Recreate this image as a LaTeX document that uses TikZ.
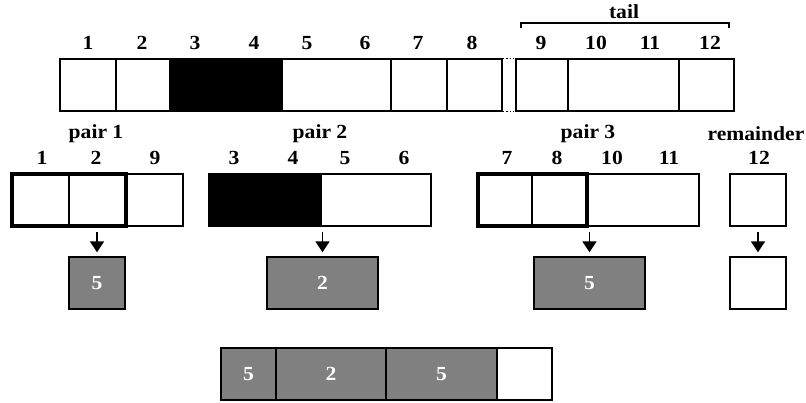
\documentclass[tikz,border=0pt]{standalone}
\usepackage{fontspec}
\setmainfont{Liberation Serif}[FakeStretch=1.08]
\usetikzlibrary{fit,arrows.meta}
\definecolor{gfill}{RGB}{128,128,128}
\newcommand\lbl{\bfseries\fontsize{20}{22}\selectfont}
\begin{document}
\begin{tikzpicture}[x=1pt,y=-1pt,
  box/.style={draw=black, line width=1.4pt, inner sep=0pt, fill=white},
  blk/.style={box, fill=black},
  gbox/.style={box, fill=gfill, text=white, font=\lbl},
  frame/.style={draw=black, line width=3.2pt, inner sep=0pt},
  lab/.style={font=\lbl, inner sep=0pt},
  arr/.style={line width=1.7pt, -{Triangle[width=14pt,length=11pt]}, shorten >=4pt}]
\useasboundingbox (0,0) rectangle (806,402);
% ---------- top row ----------
\node[box, fit={(60,59)(116,111)}] (t1) {};
\node[box, fit={(116,59)(170,111)}] (t2) {};
\node[blk, fit={(170,59)(282,111)}] (t34) {};
\node[box, fit={(282,59)(391,111)}] (t56) {};
\node[box, fit={(391,59)(447,111)}] (t7) {};
\node[box, fit={(447,59)(502,111)}] (t8) {};
\node[box, fit={(516,59)(568,111)}] (t9) {};
\node[box, fit={(568,59)(679,111)}] (t1011) {};
\node[box, fit={(679,59)(734,111)}] (t12) {};
\draw[dotted, line width=1.4pt] (t8.north east) -- (t9.north west);
\draw[dotted, line width=1.4pt] (t8.south east) -- (t9.south west);
\node[lab] (l1) at (88,43) {1};
\node[lab] (l2) at (142,43) {2};
\node[lab] (l3) at (195,43) {3};
\node[lab] (l4) at (254,43) {4};
\node[lab] (l5) at (307,43) {5};
\node[lab] (l6) at (365,43) {6};
\node[lab] (l7) at (418,43) {7};
\node[lab] (l8) at (472,43) {8};
\node[lab] (l9) at (541,43) {9};
\node[lab] (l10) at (596,43) {10};
\node[lab] (l11) at (650,43) {11};
\node[lab] (l12) at (710,43) {12};
\draw[line width=1.4pt] (521,28) -- (521,23) -- (729,23) -- (729,28);
\node[lab] (tail) at (624,12) {tail};
% ---------- second row ----------
\node[box, fit={(12,174)(69,226)}] (a1) {};
\node[box, fit={(69,174)(126,226)}] (a2) {};
\node[box, fit={(126,174)(183,226)}] (a9) {};
\node[frame, fit={(12,174)(126,226)}] (f1) {};
\node[blk, fit={(209,174)(321,226)}] (b34) {};
\node[box, fit={(321,174)(431,226)}] (b56) {};
\node[box, fit={(478,174)(532,226)}] (c7) {};
\node[box, fit={(532,174)(587,226)}] (c8) {};
\node[box, fit={(587,174)(699,226)}] (c1011) {};
\node[frame, fit={(478,174)(587,226)}] (f3) {};
\node[box, fit={(730,174)(786,226)}] (r12) {};
\node[lab] (p1) at (96,134) {pair 1};
\node[lab] (p2) at (320,134) {pair 2};
\node[lab] (p3) at (588,134) {pair 3};
\node[lab] (rem) at (756,134) {remainder};
\node[lab] (m1) at (42,158) {1};
\node[lab] (m2) at (96,158) {2};
\node[lab] (m9) at (155,158) {9};
\node[lab] (m3) at (234,158) {3};
\node[lab] (m4) at (293,158) {4};
\node[lab] (m5) at (345,158) {5};
\node[lab] (m6) at (404,158) {6};
\node[lab] (m7) at (507,158) {7};
\node[lab] (m8) at (557,158) {8};
\node[lab] (m10) at (612,158) {10};
\node[lab] (m11) at (669,158) {11};
\node[lab] (m12) at (759,158) {12};
% ---------- results ----------
\node[gbox, fit={(69,257)(125,309)}] (g1) {};
\node[text=white, font=\lbl] (g1t) at (g1.center) {5};
\node[gbox, fit={(267,257)(378,309)}] (g2) {};
\node[text=white, font=\lbl] (g2t) at (g2.center) {2};
\node[gbox, fit={(534,257)(645,309)}] (g3) {};
\node[text=white, font=\lbl] (g3t) at (g3.center) {5};
\node[box, fit={(730,257)(786,309)}] (g4) {};
\draw[arr] ([yshift=24pt]g1.north) -- (g1.north);
\draw[arr] ([yshift=24pt]g2.north) -- (g2.north);
\draw[arr] ([yshift=24pt]g3.north) -- (g3.north);
\draw[arr] ([yshift=24pt]g4.north) -- (g4.north);
% ---------- bottom row ----------
\node[gbox, fit={(221,348)(276,400)}] (s1) {};
\node[text=white, font=\lbl] (s1t) at (s1.center) {5};
\node[gbox, fit={(276,348)(386,400)}] (s2) {};
\node[text=white, font=\lbl] (s2t) at (s2.center) {2};
\node[gbox, fit={(386,348)(497,400)}] (s3) {};
\node[text=white, font=\lbl] (s3t) at (s3.center) {5};
\node[box, fit={(497,348)(552,400)}] (s4) {};
\end{tikzpicture}
\end{document}
